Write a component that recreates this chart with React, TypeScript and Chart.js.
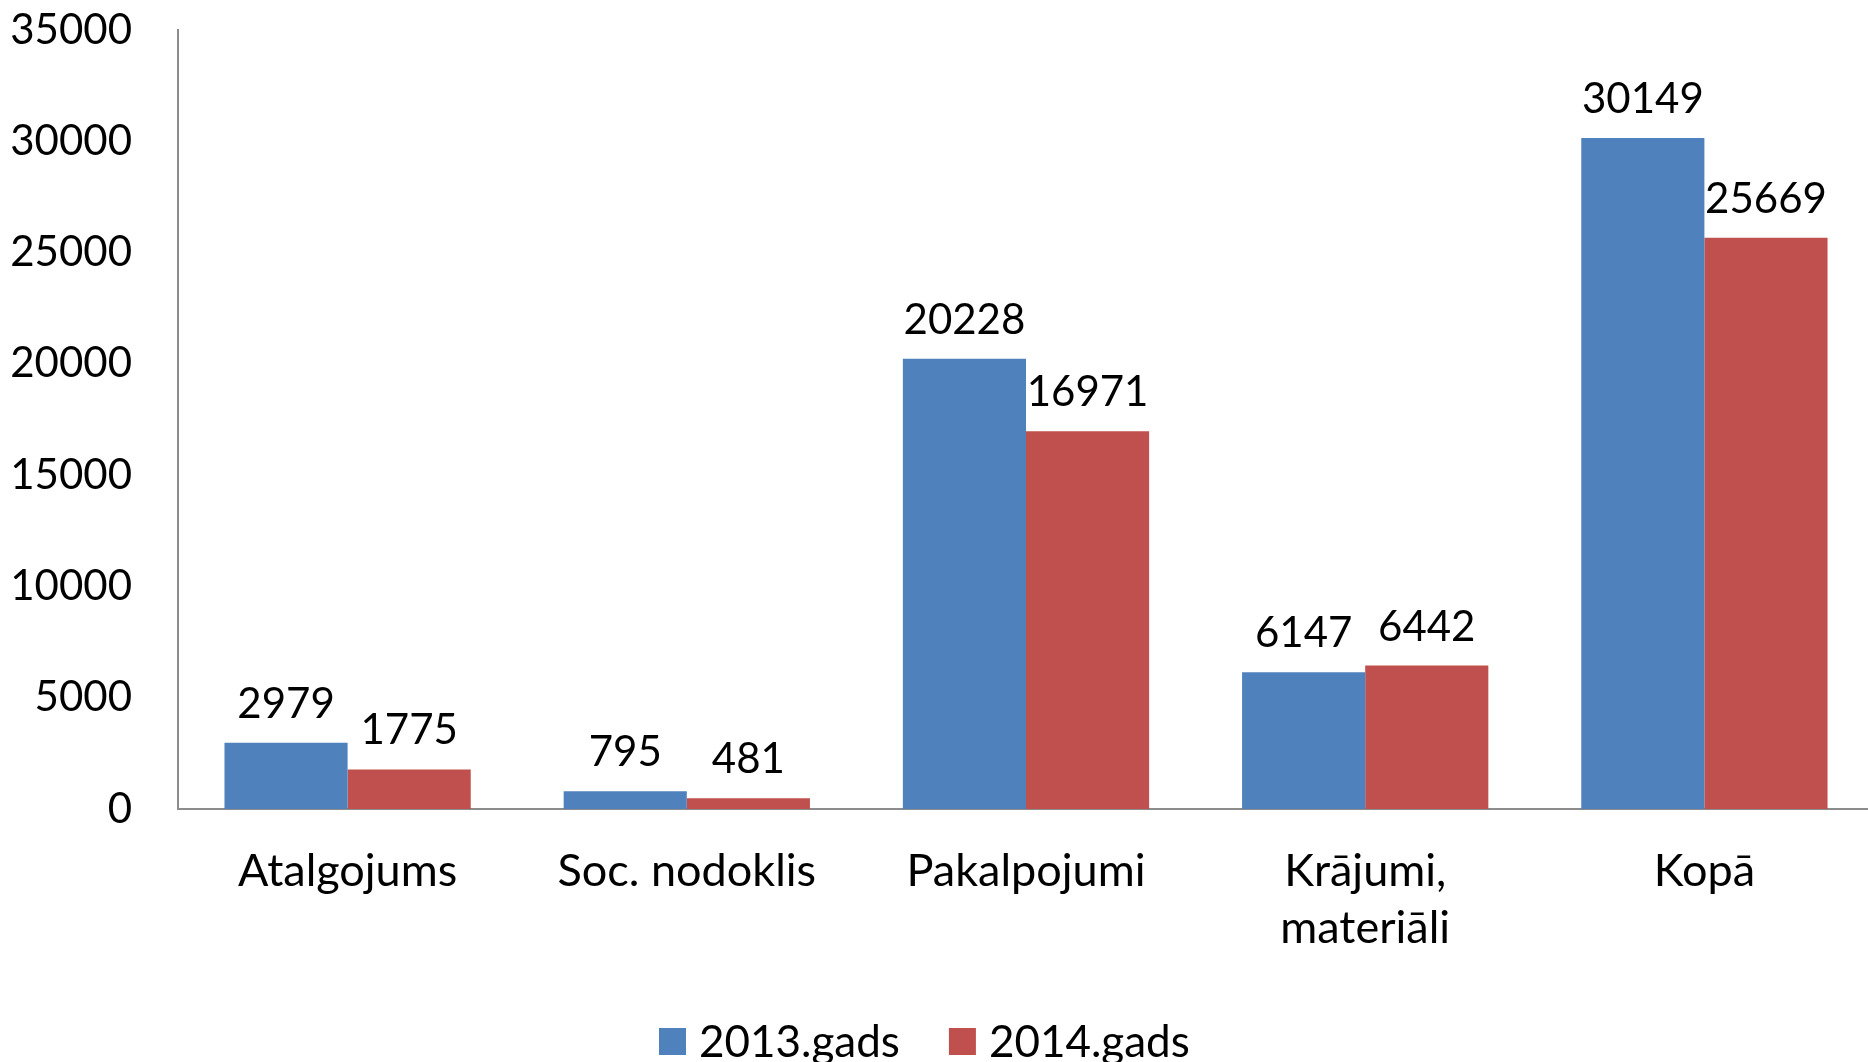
import React, { useEffect, useRef } from "react";
import { Chart, registerables } from "chart.js";

Chart.register(...registerables);

const categories: (string | string[])[] = [
  "Atalgojums",
  "Soc. nodoklis",
  "Pakalpojumi",
  ["Krājumi,", "materiāli"],
  "Kopā",
];
const seriesNames = ["2013.gads", "2014.gads"];
const values2013 = [2979, 795, 20228, 6147, 30149];
const values2014 = [1775, 481, 16971, 6442, 25669];
const yTicks = [0, 5000, 10000, 15000, 20000, 25000, 30000, 35000];

const BLUE = "#4F81BD";
const RED = "#C0504D";
const FONT = "Lato, 'Open Sans', sans-serif";
const FS = 42;

const dataLabelPlugin = {
  id: "dataLabels",
  afterDatasetsDraw(chart: any) {
    const ctx = chart.ctx;
    ctx.save();
    ctx.font = `${FS}px ${FONT}`;
    ctx.fillStyle = "#000";
    ctx.textAlign = "center";
    ctx.textBaseline = "alphabetic";
    chart.data.datasets.forEach((ds: any, i: number) => {
      const meta = chart.getDatasetMeta(i);
      meta.data.forEach((bar: any, j: number) => {
        ctx.fillText(String(ds.data[j]), bar.x, bar.y - 25);
      });
    });
    ctx.restore();
  },
};

const legendPlugin = {
  id: "customLegend",
  afterDraw(chart: any) {
    const ctx = chart.ctx;
    ctx.save();
    ctx.font = `44px ${FONT}`;
    ctx.textBaseline = "alphabetic";
    ctx.textAlign = "left";
    let x = 659;
    const baseline = 1057;
    chart.data.datasets.forEach((ds: any) => {
      ctx.fillStyle = ds.backgroundColor;
      ctx.fillRect(x, 1028, 27, 27);
      x += 27 + 13;
      ctx.fillStyle = "#000";
      ctx.fillText(ds.label, x, baseline);
      x += ctx.measureText(ds.label).width + 49;
    });
    ctx.restore();
  },
};

export default function App() {
  const ref = useRef<HTMLCanvasElement | null>(null);
  useEffect(() => {
    if (!ref.current) return;
    const chart = new Chart(ref.current, {
      type: "bar",
      data: {
        labels: categories,
        datasets: [
          { label: seriesNames[0], data: values2013, backgroundColor: BLUE },
          { label: seriesNames[1], data: values2014, backgroundColor: RED },
        ],
      },
      options: {
        animation: false,
        responsive: false,
        devicePixelRatio: 1,
        layout: { padding: { top: 30, left: 0, right: 0, bottom: 0 } },
        datasets: {
          bar: { barPercentage: 1, categoryPercentage: 0.726 },
        },
        plugins: {
          legend: { display: false },
          tooltip: { enabled: false },
        },
        scales: {
          x: {
            grid: { display: false, drawTicks: false },
            border: { display: true, color: "#8c8c8c", width: 2 },
            ticks: {
              color: "#000",
              font: { family: FONT, size: 45, lineHeight: 57 / 45 },
              padding: 34,
              maxRotation: 0,
              autoSkip: false,
            },
            afterFit: (s: any) => {
              s.height = 253;
              s.paddingTop = 0;
              s.paddingBottom = 0;
              s.paddingLeft = 0;
              s.paddingRight = 0;
            },
          },
          y: {
            min: 0,
            max: 35000,
            afterBuildTicks: (s: any) => {
              s.ticks = yTicks.map((v) => ({ value: v }));
            },
            grid: { display: false, drawTicks: false },
            border: { display: true, color: "#8c8c8c", width: 2 },
            ticks: {
              color: "#000",
              font: { family: FONT, size: FS },
              padding: 46,
              callback: (v: any) => String(v),
            },
            afterFit: (s: any) => {
              s.width = 178;
              s.paddingTop = 0;
              s.paddingBottom = 0;
            },
          },
        },
      },
      plugins: [dataLabelPlugin, legendPlugin],
    });
    return () => chart.destroy();
  }, []);
  return (
    <div
      style={{
        position: "absolute",
        left: 0,
        top: 0,
        width: 1868,
        height: 1062,
        overflow: "hidden",
        background: "#fff",
      }}
    >
      <canvas ref={ref} width={1874} height={1062} style={{ display: "block" }} />
    </div>
  );
}
